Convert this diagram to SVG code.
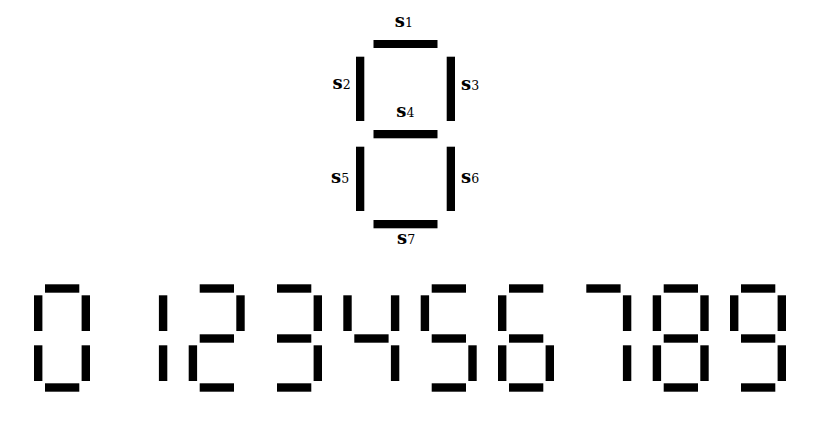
<svg xmlns="http://www.w3.org/2000/svg" xmlns:xlink="http://www.w3.org/1999/xlink" width="824" height="421" viewBox="0 0 824 421">
<style>
.lbl{font-family:"DejaVu Serif","Liberation Serif",serif;font-size:18px;font-weight:bold;fill:#000}
.sub{font-size:12.5px;font-weight:normal}
.seg{fill:#000}
</style>
<defs>
<rect id="h" class="seg" width="34.3" height="8.4"/>
<rect id="v" class="seg" width="8.4" height="35.7"/>
</defs>
<rect width="824" height="421" fill="#fff"/>
<g id="segment-diagram">
<rect class="seg" x="373.5" y="40" width="64" height="8"/>
<rect class="seg" x="356" y="56.7" width="8.3" height="64.3"/>
<rect class="seg" x="446.7" y="56.7" width="8.3" height="64.3"/>
<rect class="seg" x="373.5" y="130" width="64" height="8.3"/>
<rect class="seg" x="356" y="146.7" width="8.3" height="64.3"/>
<rect class="seg" x="446.7" y="146.7" width="8.3" height="64.3"/>
<rect class="seg" x="373.5" y="220" width="64" height="8.3"/>
<text class="lbl" x="394.8" y="27">s<tspan class="sub">1</tspan></text>
<text class="lbl" x="332.5" y="89">s<tspan class="sub">2</tspan></text>
<text class="lbl" x="461" y="90">s<tspan class="sub">3</tspan></text>
<text class="lbl" x="396.3" y="117">s<tspan class="sub">4</tspan></text>
<text class="lbl" x="331" y="183">s<tspan class="sub">5</tspan></text>
<text class="lbl" x="461" y="183">s<tspan class="sub">6</tspan></text>
<text class="lbl" x="397" y="244">s<tspan class="sub">7</tspan></text>
</g>
<g id="digit-0" transform="translate(34,284.3)">
<use href="#h" x="11" y="0"/><use href="#v" x="0" y="11"/><use href="#v" x="47.6" y="11"/><use href="#v" x="0" y="61"/><use href="#v" x="47.6" y="61"/><use href="#h" x="11" y="99"/>
</g>
<g id="digit-1" transform="translate(111.3,284.3)">
<use href="#v" x="47.6" y="11"/><use href="#v" x="47.6" y="61"/>
</g>
<g id="digit-2" transform="translate(188.7,284.3)">
<use href="#h" x="11" y="0"/><use href="#v" x="47.6" y="11"/><use href="#h" x="11" y="50"/><use href="#v" x="0" y="61"/><use href="#h" x="11" y="99"/>
</g>
<g id="digit-3" transform="translate(266,284.3)">
<use href="#h" x="11" y="0"/><use href="#v" x="47.6" y="11"/><use href="#h" x="11" y="50"/><use href="#v" x="47.6" y="61"/><use href="#h" x="11" y="99"/>
</g>
<g id="digit-4" transform="translate(343.3,284.3)">
<use href="#v" x="0" y="11"/><use href="#v" x="47.6" y="11"/><use href="#h" x="11" y="50"/><use href="#v" x="47.6" y="61"/>
</g>
<g id="digit-5" transform="translate(420.7,284.3)">
<use href="#h" x="11" y="0"/><use href="#v" x="0" y="11"/><use href="#h" x="11" y="50"/><use href="#v" x="47.6" y="61"/><use href="#h" x="11" y="99"/>
</g>
<g id="digit-6" transform="translate(498,284.3)">
<use href="#h" x="11" y="0"/><use href="#v" x="0" y="11"/><use href="#h" x="11" y="50"/><use href="#v" x="0" y="61"/><use href="#v" x="47.6" y="61"/><use href="#h" x="11" y="99"/>
</g>
<g id="digit-7" transform="translate(575.3,284.3)">
<use href="#h" x="11" y="0"/><use href="#v" x="47.6" y="11"/><use href="#v" x="47.6" y="61"/>
</g>
<g id="digit-8" transform="translate(652.7,284.3)">
<use href="#h" x="11" y="0"/><use href="#v" x="0" y="11"/><use href="#v" x="47.6" y="11"/><use href="#h" x="11" y="50"/><use href="#v" x="0" y="61"/><use href="#v" x="47.6" y="61"/><use href="#h" x="11" y="99"/>
</g>
<g id="digit-9" transform="translate(730,284.3)">
<use href="#h" x="11" y="0"/><use href="#v" x="0" y="11"/><use href="#v" x="47.6" y="11"/><use href="#h" x="11" y="50"/><use href="#v" x="47.6" y="61"/><use href="#h" x="11" y="99"/>
</g>
</svg>
